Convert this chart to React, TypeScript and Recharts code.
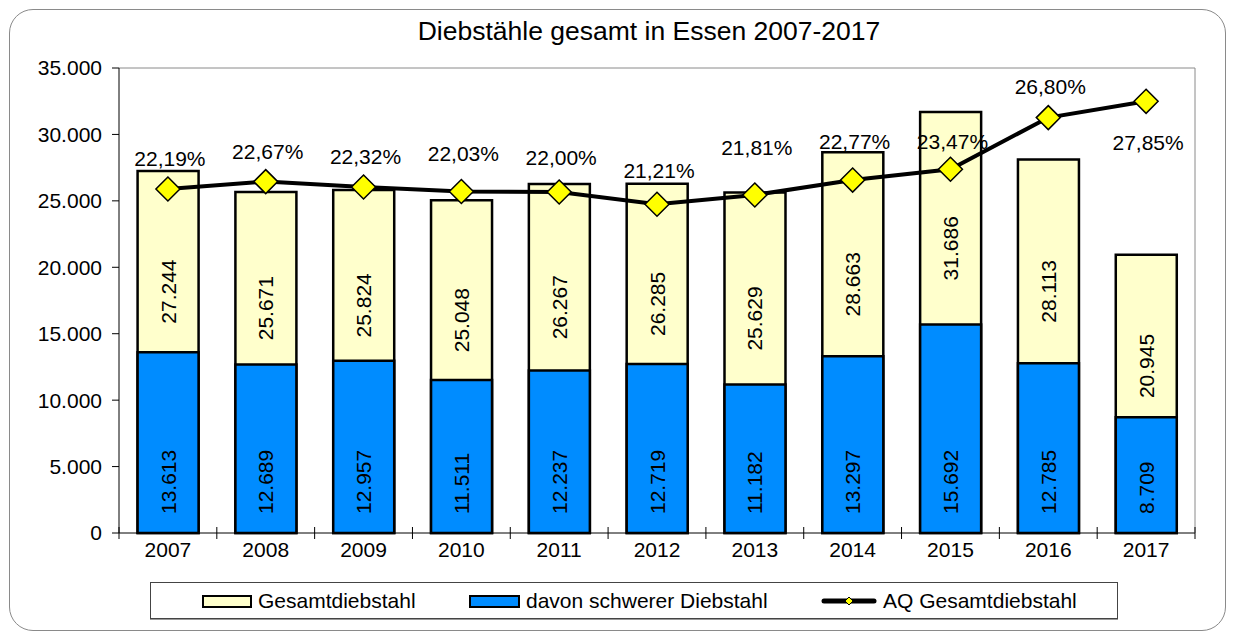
import React from 'react';
import { ComposedChart, Bar, Line, XAxis, YAxis, LabelList, ReferenceLine } from 'recharts';

const years = ['2007', '2008', '2009', '2010', '2011', '2012', '2013', '2014', '2015', '2016', '2017'];
const gesamt = [27244, 25671, 25824, 25048, 26267, 26285, 25629, 28663, 31686, 28113, 20945];
const schwer = [13613, 12689, 12957, 11511, 12237, 12719, 11182, 13297, 15692, 12785, 8709];
const aq = [22.19, 22.67, 22.32, 22.03, 22.0, 21.21, 21.81, 22.77, 23.47, 26.8, 27.85];
const yTicks = [0, 5000, 10000, 15000, 20000, 25000, 30000, 35000];

// layout: vertical offset of each percentage label from its point
const AQ_LABEL_DY = [-31, -30, -31, -38, -35, -34, -47, -39, -28, -31, 41];

const data = years.map((y, i) => ({ year: y, gesamt: gesamt[i], schwer: schwer[i], aq: aq[i] }));

const FONT = '"Liberation Sans", Arial, sans-serif';
const W = 1219;
const H = 624;
const M = { top: 60, right: 31, bottom: 69, left: 0 };
const YW = 111;
const PLOT_W = W - M.right - 1 - YW;
const BAND = PLOT_W / years.length;

const fmt = (n: number) => String(n).replace(/\B(?=(\d{3})+(?!\d))/g, '.');
const fmtPct = (v: number) => v.toFixed(2).replace('.', ',') + '%';

const getBox = (p: any) => {
  const vb = p.viewBox || {};
  return {
    x: Number(p.x ?? vb.x),
    y: Number(p.y ?? vb.y),
    width: Number(p.width ?? vb.width),
    height: Number(p.height ?? vb.height),
  };
};

const YellowLabel = (p: any) => {
  const { x, y, width, height } = getBox(p);
  const i = p.index;
  const total = gesamt[i];
  const blueTop = y + height - height * (schwer[i] / total);
  const cy = (y + blueTop) / 2 + 30;
  const cx = x + width / 2;
  return (
    <text
      transform={`translate(${cx},${cy}) rotate(-90)`}
      textAnchor="middle"
      dominantBaseline="central"
      fontSize={21}
      fontFamily={FONT}
      fill="#000"
    >
      {fmt(total)}
    </text>
  );
};

const BlueLabel = (p: any) => {
  const { x, y, width, height } = getBox(p);
  const cx = x + width / 2;
  const yb = y + height - 19;
  return (
    <text
      transform={`translate(${cx},${yb}) rotate(-90)`}
      textAnchor="start"
      dominantBaseline="central"
      fontSize={21}
      fontFamily={FONT}
      fill="#000"
    >
      {fmt(schwer[p.index])}
    </text>
  );
};

const AqLabel = (p: any) => {
  const { x, y } = getBox(p);
  const i = p.index;
  return (
    <text
      x={x + 2}
      y={y + AQ_LABEL_DY[i]}
      textAnchor="middle"
      dominantBaseline="central"
      fontSize={21}
      fontFamily={FONT}
      fill="#000"
    >
      {fmtPct(aq[i])}
    </text>
  );
};

const Diamond = (p: any) => {
  const { cx, cy, index } = p;
  const h = 12;
  return (
    <path
      key={`d-${index}`}
      d={`M${cx},${cy - h} L${cx + h},${cy} L${cx},${cy + h} L${cx - h},${cy} Z`}
      fill="#FFFF00"
      stroke="#000"
      strokeWidth={1.5}
    />
  );
};

const XTick = (p: any) => {
  const { x, y, payload, index } = p;
  const last = index === years.length - 1;
  return (
    <g>
      <line x1={x - BAND / 2} x2={x - BAND / 2} y1={y - 6} y2={y + 6} stroke="#000" strokeWidth={1} />
      {last && <line x1={x + BAND / 2} x2={x + BAND / 2} y1={y - 6} y2={y + 6} stroke="#000" strokeWidth={1} />}
      <text x={x} y={y + 24} textAnchor="middle" fontSize={21} fontFamily={FONT} fill="#000">
        {payload.value}
      </text>
    </g>
  );
};

const LegendItem = ({ left, icon, label }: { left: number; icon: React.ReactNode; label: string }) => (
  <div style={{ position: 'absolute', left, top: 0, height: 36, display: 'flex', alignItems: 'center' }}>
    {icon}
    <span style={{ fontFamily: FONT, fontSize: 21, color: '#000', marginLeft: 6, whiteSpace: 'nowrap' }}>{label}</span>
  </div>
);

export default function App() {
  return (
    <div style={{ position: 'relative', width: W, height: H, fontFamily: FONT }}>
      <div
        style={{
          position: 'absolute',
          left: 1,
          top: 1,
          width: W - 4,
          height: H - 4,
          border: '1.5px solid #8a8a8a',
          borderRadius: 24,
          pointerEvents: 'none',
        }}
      />
      <div
        style={{
          position: 'absolute',
          left: 0,
          width: 1282,
          top: 8,
          textAlign: 'center',
          fontSize: 26.5,
          lineHeight: '30px',
          color: '#000',
          whiteSpace: 'nowrap',
        }}
      >
        Diebstähle gesamt in Essen 2007-2017
      </div>
      <ComposedChart width={W} height={H} data={data} margin={M} barCategoryGap="19%">
        <XAxis
          xAxisId="a"
          dataKey="year"
          interval={0}
          tickSize={0}
          tickMargin={0}
          tickLine={false}
          axisLine={{ stroke: '#000', strokeWidth: 1 }}
          tick={<XTick />}
          height={30}
        />
        <XAxis xAxisId="b" dataKey="year" hide />
        <YAxis
          yAxisId="left"
          width={YW}
          domain={[0, 35000]}
          ticks={yTicks}
          interval={0}
          tickSize={7}
          tickMargin={10}
          tickFormatter={fmt}
          tick={{ fontSize: 21, fontFamily: FONT, fill: '#000' }}
          tickLine={{ stroke: '#000' }}
          axisLine={{ stroke: '#000' }}
        />
        <YAxis
          yAxisId="pct"
          orientation="right"
          width={1}
          domain={[0, 30]}
          tick={false}
          tickLine={false}
          axisLine={{ stroke: '#8a8a8a' }}
        />
        <ReferenceLine yAxisId="left" xAxisId="a" y={35000} stroke="#8a8a8a" strokeWidth={1} />
        <Bar
          xAxisId="a"
          yAxisId="left"
          dataKey="gesamt"
          fill="#FFFFCC"
          stroke="#000"
          strokeWidth={2.5}
          isAnimationActive={false}
        >
          <LabelList dataKey="gesamt" content={<YellowLabel />} />
        </Bar>
        <Bar
          xAxisId="b"
          yAxisId="left"
          dataKey="schwer"
          fill="#008CFF"
          stroke="#000"
          strokeWidth={2.5}
          isAnimationActive={false}
        >
          <LabelList dataKey="schwer" content={<BlueLabel />} />
        </Bar>
        <Line
          xAxisId="a"
          yAxisId="pct"
          dataKey="aq"
          stroke="#000"
          strokeWidth={4}
          dot={Diamond}
          activeDot={false}
          isAnimationActive={false}
        >
          <LabelList dataKey="aq" content={<AqLabel />} />
        </Line>
      </ComposedChart>
      <div
        style={{
          position: 'absolute',
          left: 142,
          top: 574,
          width: 966,
          height: 35,
          border: '1px solid #444',
          boxShadow: '0 1px 0 #999',
          background: '#fff',
        }}
      >
        <LegendItem
          left={51}
          label="Gesamtdiebstahl"
          icon={<div style={{ width: 46, height: 9, background: '#FFFFCC', border: '2px solid #000' }} />}
        />
        <LegendItem
          left={318}
          label="davon schwerer Diebstahl"
          icon={<div style={{ width: 47, height: 9, background: '#008CFF', border: '2px solid #000' }} />}
        />
        <LegendItem
          left={670}
          label="AQ Gesamtdiebstahl"
          icon={
            <svg width={56} height={14} style={{ display: 'block' }}>
              <line x1={3} y1={7} x2={53} y2={7} stroke="#000" strokeWidth={5} strokeLinecap="round" />
              <path d="M28,3 L32,7 L28,11 L24,7 Z" fill="#FFFF00" stroke="#000" strokeWidth={1} />
            </svg>
          }
        />
      </div>
    </div>
  );
}
